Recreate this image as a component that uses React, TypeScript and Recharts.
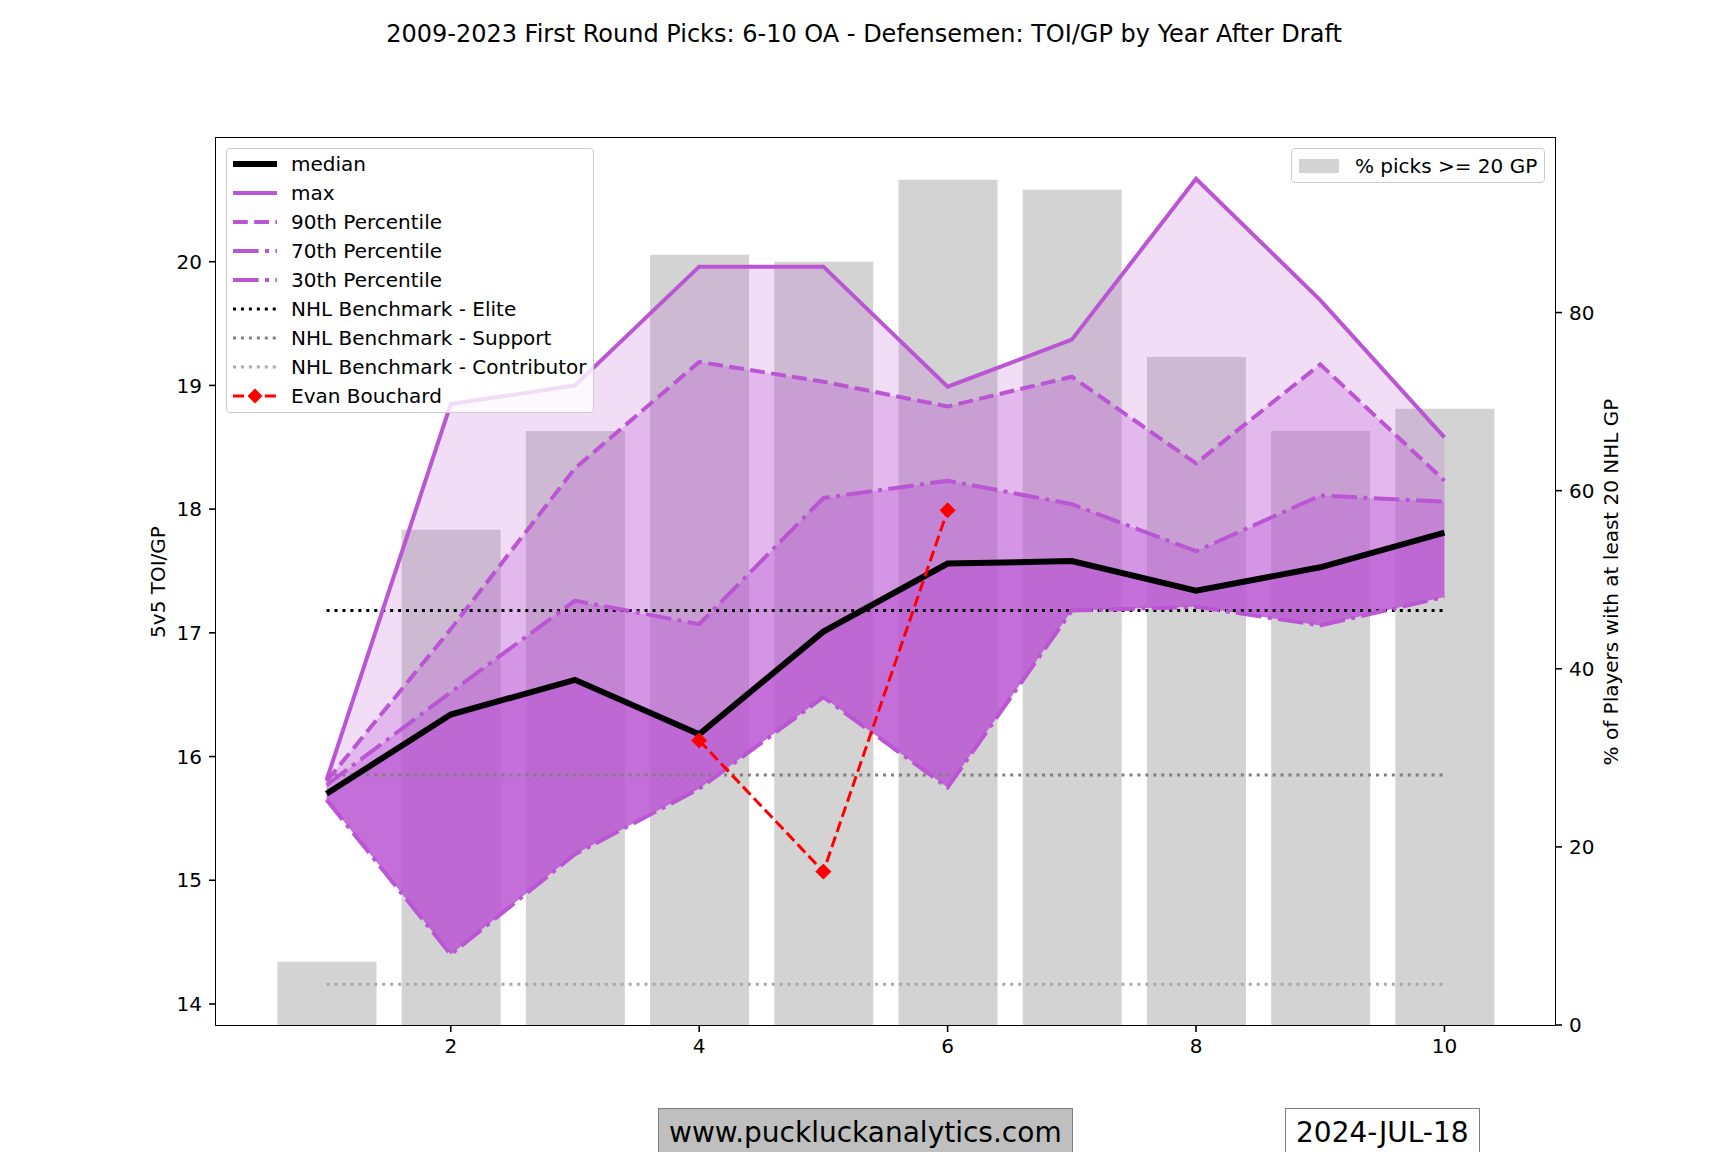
import { Area, Bar, ComposedChart, Line, XAxis, YAxis } from "recharts";

const years = [1, 2, 3, 4, 5, 6, 7, 8, 9, 10];
const pctPicks20Gp = [7.1, 55.6, 66.7, 86.5, 85.7, 94.9, 93.8, 75.0, 66.7, 69.2];
const medianToi = [15.7, 16.34, 16.62, 16.18, 17.01, 17.56, 17.58, 17.34, 17.53, 17.81];
const maxToi = [15.81, 18.85, 19.0, 19.96, 19.96, 18.99, 19.37, 20.67, 19.69, 18.58];
const p90Toi = [15.8, 17.03, 18.33, 19.19, 19.03, 18.83, 19.07, 18.37, 19.17, 18.23];
const p70Toi = [15.77, 16.52, 17.26, 17.07, 18.09, 18.23, 18.04, 17.66, 18.11, 18.06];
const p30Toi = [15.65, 14.4, 15.21, 15.74, 16.48, 15.75, 17.18, 17.21, 17.06, 17.29];
const bouchardToi = [null, null, null, 16.13, 15.07, 17.99, null, null, null, null];
const eliteBenchmark = 17.18;
const supportBenchmark = 15.85;
const contributorBenchmark = 14.16;

const xTicks = [2, 4, 6, 8, 10];
const leftTicks = [14, 15, 16, 17, 18, 19, 20];
const rightTicks = [0, 20, 40, 60, 80];

const FONT = "'DejaVu Sans', sans-serif";
const ORCHID = "mediumorchid";
const PCT_W = 4;
const PCT_DASHED = "14.8 6.4";
const PCT_DASHDOT = "25.6 6.4 4 6.4";
const RED_DASHED = "11.1 4.8";
const DOTTED = "3 4.95";

const rows = years.map((year, i) => ({
  year,
  pct: pctPicks20Gp[i],
  median: medianToi[i],
  max: maxToi[i],
  p90: p90Toi[i],
  p70: p70Toi[i],
  p30: p30Toi[i],
  bouchard: bouchardToi[i],
  elite: eliteBenchmark,
  support: supportBenchmark,
  contributor: contributorBenchmark,
}));

const Diamond = (props: any) => {
  const { cx, cy, index } = props;
  if (cx == null || cy == null || props.value == null) return <g key={`e${index}`} />;
  const r = 7.5;
  return (
    <polygon
      key={`d${index}`}
      points={`${cx},${cy - r} ${cx + r},${cy} ${cx},${cy + r} ${cx - r},${cy}`}
      fill="red"
      stroke="red"
      strokeWidth={1}
    />
  );
};

const legendItems = [
  { label: "median", color: "black", width: 6, dash: undefined, marker: false },
  { label: "max", color: ORCHID, width: PCT_W, dash: undefined, marker: false },
  { label: "90th Percentile", color: ORCHID, width: PCT_W, dash: PCT_DASHED, marker: false },
  { label: "70th Percentile", color: ORCHID, width: PCT_W, dash: PCT_DASHDOT, marker: false },
  { label: "30th Percentile", color: ORCHID, width: PCT_W, dash: PCT_DASHDOT, marker: false },
  { label: "NHL Benchmark - Elite", color: "black", width: 3, dash: DOTTED, marker: false },
  { label: "NHL Benchmark - Support", color: "gray", width: 3, dash: DOTTED, marker: false },
  { label: "NHL Benchmark - Contributor", color: "darkgray", width: 3, dash: DOTTED, marker: false },
  { label: "Evan Bouchard", color: "red", width: 3, dash: RED_DASHED, marker: true },
];

const LeftLegend = () => (
  <div
    style={{
      position: "absolute",
      left: 226,
      top: 148,
      width: 366,
      height: 263,
      background: "rgba(255,255,255,0.8)",
      border: "1.6px solid #cccccc",
      borderRadius: 4,
      fontFamily: FONT,
      fontSize: 20,
    }}
  >
    {legendItems.map((item, i) => (
      <div
        key={item.label}
        style={{
          position: "absolute",
          left: 0,
          top: 15 + i * 29.05 - 14,
          height: 28,
          display: "flex",
          alignItems: "center",
          whiteSpace: "nowrap",
        }}
      >
        <svg width={59} height={28} style={{ marginLeft: 5, flex: "none" }}>
          <line
            x1={1}
            x2={45}
            y1={14}
            y2={14}
            stroke={item.color}
            strokeWidth={item.width}
            strokeDasharray={item.dash}
          />
          {item.marker && <polygon points="23,6.5 30.5,14 23,21.5 15.5,14" fill="red" />}
        </svg>
        <span style={{ lineHeight: "28px" }}>{item.label}</span>
      </div>
    ))}
  </div>
);

const RightLegend = () => (
  <div
    style={{
      position: "absolute",
      left: 1291,
      top: 148,
      width: 252,
      height: 33,
      background: "rgba(255,255,255,0.8)",
      border: "1.6px solid #cccccc",
      borderRadius: 4,
      fontFamily: FONT,
      fontSize: 20,
      display: "flex",
      alignItems: "center",
      whiteSpace: "nowrap",
    }}
  >
    <div style={{ width: 40, height: 14, background: "lightgray", marginLeft: 7, marginRight: 16 }} />
    <span style={{ lineHeight: "28px" }}>% picks &gt;= 20 GP</span>
  </div>
);

const App = () => {
  return (
    <div style={{ position: "absolute", left: 0, top: 0, width: 1728, height: 1152, overflow: "hidden", background: "white", fontFamily: FONT }}>
      <div style={{ position: "absolute", left: 0, top: 20, width: 1728, textAlign: "center", fontSize: 24, lineHeight: "28px" }}>
        2009-2023 First Round Picks: 6-10 OA - Defensemen: TOI/GP by Year After Draft
      </div>

      <div style={{ position: "absolute", left: 0, top: 0 }}>
        <ComposedChart width={1728} height={1152} data={rows} margin={{ top: 138, right: 113, bottom: 97, left: 156 }}>
          <XAxis
            dataKey="year"
            type="number"
            domain={[0.11, 10.89]}
            ticks={xTicks}
            allowDataOverflow
            height={30}
            axisLine={false}
            tickSize={7}
            tickMargin={7}
            tickLine={{ stroke: "black", strokeWidth: 1.6 }}
            tick={{ fill: "black", fontSize: 20, fontFamily: FONT }}
          />
          <YAxis
            yAxisId="left"
            domain={[13.83, 21.0]}
            ticks={leftTicks}
            allowDataOverflow
            width={60}
            axisLine={false}
            tickSize={7}
            tickMargin={7}
            tickLine={{ stroke: "black", strokeWidth: 1.6 }}
            tick={{ fill: "black", fontSize: 20, fontFamily: FONT }}
          />
          <YAxis
            yAxisId="right"
            orientation="right"
            domain={[0, 99.6]}
            ticks={rightTicks}
            allowDataOverflow
            width={60}
            axisLine={false}
            tickSize={7}
            tickMargin={7}
            tickLine={{ stroke: "black", strokeWidth: 1.6 }}
            tick={{ fill: "black", fontSize: 20, fontFamily: FONT }}
          />

          <Bar yAxisId="right" dataKey="pct" fill="lightgray" barSize={99} isAnimationActive={false} zIndex={50} />

          <Area yAxisId="left" type="linear" dataKey={(d: any) => [d.p90, d.max]} stroke="none" fill={ORCHID} fillOpacity={0.2} isAnimationActive={false} dot={false} activeDot={false} zIndex={100} />
          <Area yAxisId="left" type="linear" dataKey={(d: any) => [d.p70, d.p90]} stroke="none" fill={ORCHID} fillOpacity={0.41} isAnimationActive={false} dot={false} activeDot={false} zIndex={100} />
          <Area yAxisId="left" type="linear" dataKey={(d: any) => [d.median, d.p70]} stroke="none" fill={ORCHID} fillOpacity={0.62} isAnimationActive={false} dot={false} activeDot={false} zIndex={100} />
          <Area yAxisId="left" type="linear" dataKey={(d: any) => [d.p30, d.median]} stroke="none" fill={ORCHID} fillOpacity={0.85} isAnimationActive={false} dot={false} activeDot={false} zIndex={100} />

          <Line yAxisId="left" type="linear" dataKey="contributor" stroke="darkgray" strokeWidth={3} strokeDasharray={DOTTED} dot={false} activeDot={false} isAnimationActive={false} zIndex={400} />
          <Line yAxisId="left" type="linear" dataKey="support" stroke="gray" strokeWidth={3} strokeDasharray={DOTTED} dot={false} activeDot={false} isAnimationActive={false} zIndex={400} />
          <Line yAxisId="left" type="linear" dataKey="elite" stroke="black" strokeWidth={3} strokeDasharray={DOTTED} dot={false} activeDot={false} isAnimationActive={false} zIndex={400} />
          <Line yAxisId="left" type="linear" dataKey="p30" stroke={ORCHID} strokeWidth={PCT_W} strokeDasharray={PCT_DASHDOT} dot={false} activeDot={false} isAnimationActive={false} zIndex={400} />
          <Line yAxisId="left" type="linear" dataKey="p70" stroke={ORCHID} strokeWidth={PCT_W} strokeDasharray={PCT_DASHDOT} dot={false} activeDot={false} isAnimationActive={false} zIndex={400} />
          <Line yAxisId="left" type="linear" dataKey="p90" stroke={ORCHID} strokeWidth={PCT_W} strokeDasharray={PCT_DASHED} dot={false} activeDot={false} isAnimationActive={false} zIndex={400} />
          <Line yAxisId="left" type="linear" dataKey="max" stroke={ORCHID} strokeWidth={PCT_W} dot={false} activeDot={false} isAnimationActive={false} zIndex={400} />
          <Line yAxisId="left" type="linear" dataKey="median" stroke="black" strokeWidth={6} dot={false} activeDot={false} isAnimationActive={false} zIndex={400} />
          <Line yAxisId="left" type="linear" dataKey="bouchard" stroke="red" strokeWidth={3} strokeDasharray={RED_DASHED} dot={Diamond} activeDot={false} isAnimationActive={false} zIndex={400} />
        </ComposedChart>
      </div>

      {/* axes frame */}
      <div style={{ position: "absolute", left: 215, top: 137, width: 1339, height: 887, border: "1.6px solid black", pointerEvents: "none" }} />

      <div style={{ position: "absolute", left: 158, top: 582, transform: "translate(-50%, -50%) rotate(-90deg)", whiteSpace: "nowrap", fontSize: 20 }}>
        5v5 TOI/GP
      </div>
      <div style={{ position: "absolute", left: 1611, top: 582, transform: "translate(-50%, -50%) rotate(-90deg)", whiteSpace: "nowrap", fontSize: 20 }}>
        % of Players with at least 20 NHL GP
      </div>

      <LeftLegend />
      <RightLegend />

      <div style={{ position: "absolute", left: 658, top: 1108, padding: "7px 10px", fontSize: 28, lineHeight: "33px", border: "1.5px solid #7f7f7f", background: "#bfbfbf", whiteSpace: "nowrap" }}>
        www.puckluckanalytics.com
      </div>
      <div style={{ position: "absolute", left: 1285, top: 1108, padding: "7px 10px", fontSize: 28, lineHeight: "33px", border: "1.5px solid #7f7f7f", background: "white", whiteSpace: "nowrap" }}>
        2024-JUL-18
      </div>
    </div>
  );
};

export default App;
